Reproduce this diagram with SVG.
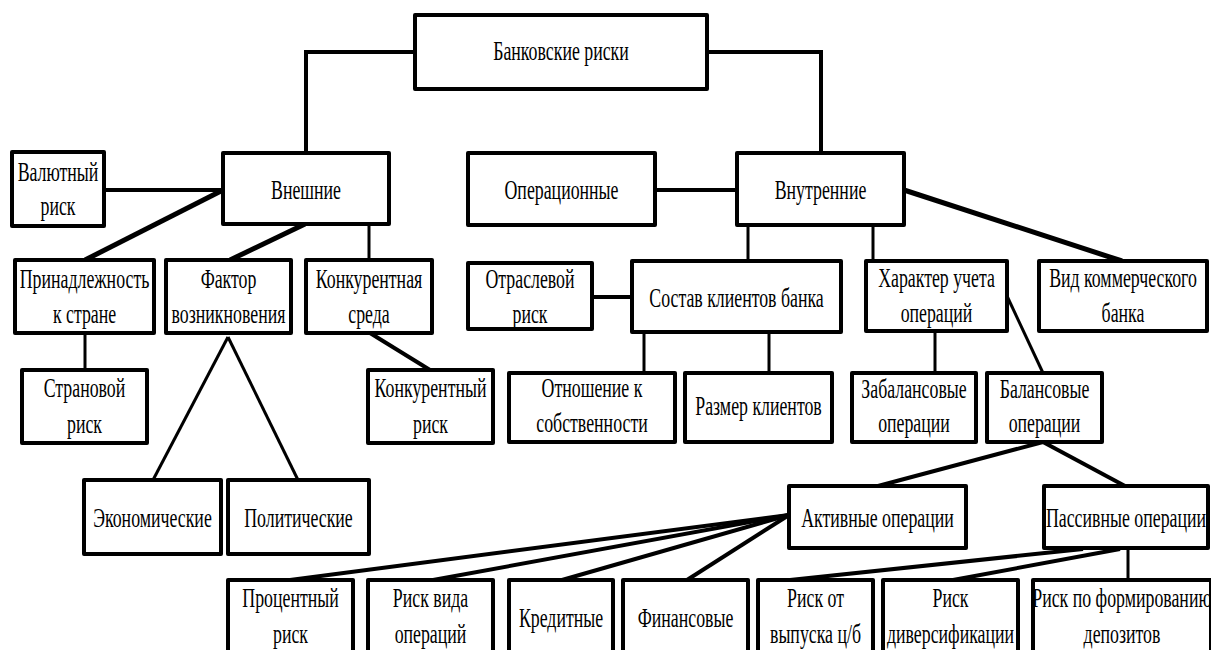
<svg xmlns="http://www.w3.org/2000/svg" width="1211" height="650" viewBox="0 0 1211 650" font-family="Liberation Serif, Times New Roman, Tinos, DejaVu Serif, Noto Serif, FreeSerif, serif" font-size="27">
<style>
rect{fill:#fff;stroke:#000;stroke-width:4;stroke-linejoin:round}
.c line,.c polyline{stroke:#000;fill:none;stroke-width:4}
.t3{stroke-width:3 !important}
.t5{stroke-width:5 !important}
text{fill:#000;text-anchor:middle}
</style>
<rect x="0" y="0" width="1211" height="650" style="stroke:none;fill:#fff"/>
<g class="c" id="connectors">
<polyline points="415,52 306,52 306,153"/>
<polyline points="707,52 821,52 821,153"/>
<line x1="104" y1="190" x2="223" y2="190"/>
<line class="t5" x1="223" y1="190" x2="85" y2="260"/>
<line class="t5" x1="305" y1="224" x2="230" y2="260"/>
<line class="t3" x1="369" y1="224" x2="369" y2="260"/>
<line class="t3" x1="85" y1="333" x2="85" y2="370"/>
<line class="t3" x1="228" y1="337" x2="153" y2="480"/>
<line class="t3" x1="228" y1="337" x2="298" y2="480"/>
<line x1="370" y1="333" x2="430" y2="370"/>
<line x1="655" y1="190" x2="737" y2="190"/>
<line x1="592" y1="297" x2="632" y2="297"/>
<line class="t3" x1="748" y1="225" x2="748" y2="261"/>
<line class="t3" x1="873" y1="225" x2="873" y2="261"/>
<line class="t5" x1="904" y1="190" x2="1122" y2="261"/>
<line class="t3" x1="644" y1="332" x2="644" y2="373"/>
<line class="t3" x1="769" y1="332" x2="769" y2="373"/>
<line class="t3" x1="935" y1="331" x2="935" y2="373"/>
<line class="t3" x1="1007" y1="296" x2="1043" y2="373"/>
<line x1="1043" y1="442" x2="878" y2="486"/>
<line x1="1043" y1="442" x2="1125" y2="486"/>
<line x1="789" y1="515" x2="290" y2="580"/>
<line x1="789" y1="515" x2="433" y2="580"/>
<line x1="789" y1="515" x2="562" y2="580"/>
<line x1="789" y1="515" x2="687" y2="580"/>
<line x1="1083" y1="549" x2="790" y2="580"/>
<line x1="1120" y1="549" x2="953" y2="580"/>
<line class="t3" x1="1128" y1="548" x2="1128" y2="580"/>
</g>
<g id="root"><rect x="415" y="15" width="292" height="74"/><text transform="translate(561,60) scale(0.66,1)">Банковские риски</text></g>
<g id="vneshnie"><rect x="223" y="153" width="166" height="71"/><text transform="translate(306,199) scale(0.66,1)">Внешние</text></g>
<g id="valyutny"><rect x="12" y="152" width="92" height="74"/><text transform="translate(58,181) scale(0.66,1)">Валютный</text><text transform="translate(58,215) scale(0.66,1)">риск</text></g>
<g id="operacionnye"><rect x="468" y="153" width="187" height="72"/><text transform="translate(561.5,199) scale(0.66,1)">Операционные</text></g>
<g id="vnutrennie"><rect x="737" y="153" width="167" height="72"/><text transform="translate(820.5,199) scale(0.66,1)">Внутренние</text></g>
<g id="prinadl"><rect x="15" y="260" width="139" height="73"/><text transform="translate(84.5,288) scale(0.66,1)">Принадлежность</text><text transform="translate(84.5,323) scale(0.66,1)">к стране</text></g>
<g id="faktor"><rect x="166" y="260" width="125" height="73"/><text transform="translate(228.5,288) scale(0.66,1)">Фактор</text><text transform="translate(228.5,323) scale(0.66,1)">возникновения</text></g>
<g id="konk_sreda"><rect x="306" y="260" width="126" height="73"/><text transform="translate(369,288) scale(0.66,1)">Конкурентная</text><text transform="translate(369,323) scale(0.66,1)">среда</text></g>
<g id="stranovoy"><rect x="22" y="370" width="125" height="73"/><text transform="translate(84.5,397) scale(0.66,1)">Страновой</text><text transform="translate(84.5,433) scale(0.66,1)">риск</text></g>
<g id="konk_risk"><rect x="368" y="370" width="125" height="73"/><text transform="translate(430.5,397) scale(0.66,1)">Конкурентный</text><text transform="translate(430.5,433) scale(0.66,1)">риск</text></g>
<g id="ekonom"><rect x="84" y="480" width="137" height="74"/><text transform="translate(152.5,527) scale(0.66,1)">Экономические</text></g>
<g id="polit"><rect x="228" y="480" width="141" height="74"/><text transform="translate(298.5,527) scale(0.66,1)">Политические</text></g>
<g id="otrasl"><rect x="468" y="263" width="124" height="66"/><text transform="translate(530,288) scale(0.66,1)">Отраслевой</text><text transform="translate(530,323) scale(0.66,1)">риск</text></g>
<g id="sostav"><rect x="632" y="261" width="209" height="71"/><text transform="translate(736.5,307) scale(0.66,1)">Состав клиентов банка</text></g>
<g id="otnosh"><rect x="509" y="373" width="166" height="69"/><text transform="translate(592,397) scale(0.66,1)">Отношение к</text><text transform="translate(592,432) scale(0.66,1)">собственности</text></g>
<g id="razmer"><rect x="685" y="373" width="147" height="69"/><text transform="translate(758.5,415) scale(0.66,1)">Размер клиентов</text></g>
<g id="harakter"><rect x="866" y="261" width="141" height="70"/><text transform="translate(936.5,287) scale(0.66,1)">Характер учета</text><text transform="translate(936.5,322) scale(0.66,1)">операций</text></g>
<g id="vid"><rect x="1039" y="261" width="168" height="70"/><text transform="translate(1123,287) scale(0.66,1)">Вид коммерческого</text><text transform="translate(1123,322) scale(0.66,1)">банка</text></g>
<g id="zabal"><rect x="852" y="373" width="124" height="69"/><text transform="translate(914,398) scale(0.66,1)">Забалансовые</text><text transform="translate(914,432) scale(0.66,1)">операции</text></g>
<g id="balans"><rect x="987" y="373" width="115" height="69"/><text transform="translate(1044.5,398) scale(0.66,1)">Балансовые</text><text transform="translate(1044.5,432) scale(0.66,1)">операции</text></g>
<g id="aktiv"><rect x="789" y="486" width="177" height="62"/><text transform="translate(877.5,527) scale(0.66,1)">Активные операции</text></g>
<g id="passiv"><rect x="1044" y="486" width="164" height="62"/><text transform="translate(1126,527) scale(0.66,1)">Пассивные операции</text></g>
<g id="procent"><rect x="228" y="580" width="125" height="80"/><text transform="translate(290.5,607) scale(0.66,1)">Процентный</text><text transform="translate(290.5,643) scale(0.66,1)">риск</text></g>
<g id="riskvida"><rect x="368" y="580" width="125" height="80"/><text transform="translate(430.5,607) scale(0.66,1)">Риск вида</text><text transform="translate(430.5,643) scale(0.66,1)">операций</text></g>
<g id="kredit"><rect x="509" y="580" width="104" height="80"/><text transform="translate(561,627) scale(0.66,1)">Кредитные</text></g>
<g id="finans"><rect x="623" y="580" width="125" height="80"/><text transform="translate(685.5,627) scale(0.66,1)">Финансовые</text></g>
<g id="riskot"><rect x="758" y="580" width="115" height="80"/><text transform="translate(815.5,607) scale(0.66,1)">Риск от</text><text transform="translate(815.5,643) scale(0.66,1)">выпуска ц/б</text></g>
<g id="divers"><rect x="883" y="580" width="135" height="80"/><text transform="translate(950.5,607) scale(0.66,1)">Риск</text><text transform="translate(950.5,643) scale(0.66,1)">диверсификации</text></g>
<g id="formir"><rect x="1033" y="580" width="178" height="80"/><text transform="translate(1122,607) scale(0.66,1)">Риск по формированию</text><text transform="translate(1122,643) scale(0.66,1)">депозитов</text></g>
</svg>
